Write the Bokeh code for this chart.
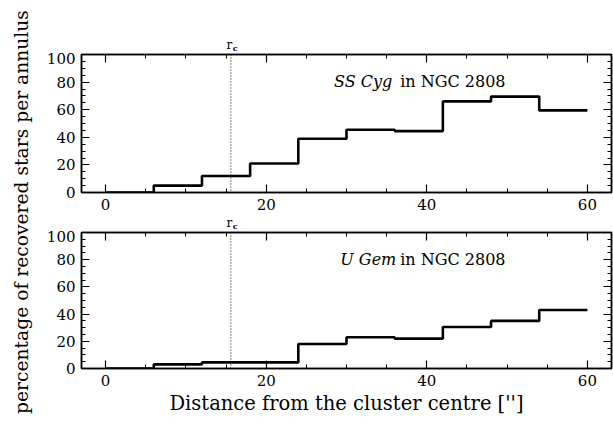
import numpy as np
from bokeh.plotting import figure
from bokeh.models import LinearAxis, Span, Label, Range1d, SingleIntervalTicker, CustomJSTickFormatter
from bokeh.layouts import row, column
from bokeh.embed import file_html
from bokeh.resources import INLINE
from bokeh.core.properties import value

# ---- data ----
bin_lefts = [0, 6, 12, 18, 24, 30, 36, 42, 48, 54]
bin_width = 6
ss_cyg = [0, 5, 12, 21, 39, 45.5, 44.5, 66, 69.5, 59.5]
u_gem = [0, 3, 4.5, 4.5, 18, 23, 22, 30.5, 35, 43]
r_c = 15.6
panel_names = ["SS Cyg", "U Gem"]
cluster_text = "in NGC 2808"
x_title = "Distance from the cluster centre ['']"
y_title = "percentage of recovered stars per annulus"

FONT = "DejaVu Serif"
X_RANGE = (-3, 63)
BL, BR = 43, 2


def style(p):
    p.add_layout(LinearAxis(), "right")
    p.add_layout(LinearAxis(), "above")
    p.grid.visible = False
    p.outline_line_color = "black"
    p.outline_line_width = 1.5
    for ax in p.xaxis:
        ax.ticker = SingleIntervalTicker(interval=20, num_minor_ticks=4)
    for ax in p.yaxis:
        ax.ticker = SingleIntervalTicker(interval=20, num_minor_ticks=4)
    for ax in p.axis:
        ax.axis_line_color = "black"
        ax.axis_line_width = 1.5
        ax.major_tick_in = 8
        ax.major_tick_out = 0
        ax.minor_tick_in = 4
        ax.minor_tick_out = 0
        ax.major_tick_line_width = 1.2
        ax.minor_tick_line_width = 1.0
        ax.major_tick_line_color = "black"
        ax.minor_tick_line_color = "black"
        ax.major_label_text_font = FONT
        ax.major_label_text_font_size = "15px"
        ax.major_label_text_color = "black"
        ax.major_label_standoff = 6
    for ax in p.right + p.above:
        ax.formatter = CustomJSTickFormatter(code="return ''")
        ax.major_label_text_font_size = "1px"
        ax.major_label_standoff = 0


def header(height, r_base):
    h = figure(width=575, height=height, x_range=Range1d(*X_RANGE), y_range=Range1d(0, height),
               output_backend="svg", toolbar_location=None,
               x_axis_location=None, y_axis_location=None,
               min_border_left=BL, min_border_right=BR, min_border_top=0, min_border_bottom=0)
    h.grid.visible = False
    h.outline_line_color = None
    h.text(x=[r_c], y=[r_base], text=["r"], x_offset=-1.5, text_align="center",
           text_baseline="alphabetic", text_font=value(FONT), text_font_size="12px",
           text_color="black")
    h.text(x=[r_c], y=[r_base], text=["c"], x_offset=2, y_offset=2.6, text_align="left",
           text_baseline="alphabetic", text_font=value(FONT), text_font_size="8px",
           text_font_style="bold", text_color="black")
    return h


def panel(vals, name, height, bt, bb, label_x, xlabel=None):
    p = figure(width=575, height=height, x_range=Range1d(*X_RANGE), y_range=Range1d(0, 100),
               output_backend="svg", toolbar_location=None,
               min_border_left=BL, min_border_right=BR, min_border_top=bt, min_border_bottom=bb)
    style(p)
    edges = list(bin_lefts) + [bin_lefts[-1] + bin_width]
    ys = list(vals) + [vals[-1]]
    p.step(x=edges, y=ys, mode="after", line_width=2.6, line_color="black")
    p.add_layout(Span(location=r_c, dimension="height", line_dash="1 2",
                      line_width=1, line_color="black"))
    p.add_layout(Label(x=label_x, y=80.5, text=name, text_align="right",
                       text_baseline="alphabetic", text_font=FONT, text_font_size="16px",
                       text_font_style="italic", text_color="black"))
    p.add_layout(Label(x=49.8, y=80.5, text=cluster_text, text_align="right",
                       text_baseline="alphabetic", text_font=FONT, text_font_size="16px",
                       text_color="black"))
    if xlabel:
        ax = p.below[0]
        ax.axis_label = xlabel
        ax.axis_label_text_font = FONT
        ax.axis_label_text_font_size = "19.5px"
        ax.axis_label_text_font_style = "normal"
        ax.axis_label_text_color = "black"
        ax.axis_label_standoff = 3
    return p


h1 = header(52, 7.3)
top = panel(ss_cyg, panel_names[0], 163, 2, 23, 35.7)
h2 = header(15, 7.3)
bot = panel(u_gem, panel_names[1], 193, 2, 55, 36.2, xlabel=x_title)

ylab = figure(width=38, height=423, x_range=Range1d(0, 38), y_range=Range1d(0, 423),
              output_backend="svg", toolbar_location=None,
              x_axis_location=None, y_axis_location=None, min_border=0)
ylab.grid.visible = False
ylab.outline_line_color = None
ylab.text(x=[20.5], y=[211.5], text=[y_title], angle=np.pi / 2, text_align="center",
          text_baseline="middle", text_font=value(FONT), text_font_size="18.7px",
          text_color="black")

layout = row(ylab, column(h1, top, h2, bot))
open("out.html", "w").write(file_html(layout, INLINE))
